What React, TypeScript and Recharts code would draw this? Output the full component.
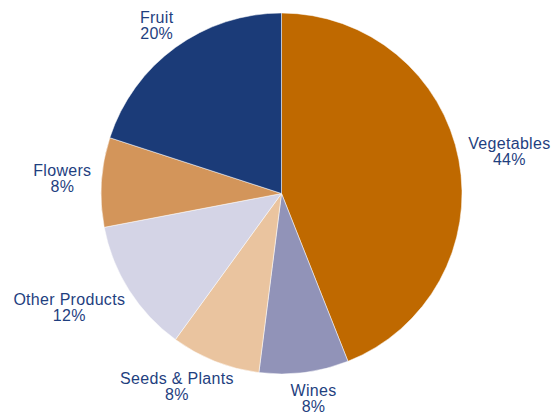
import React from 'react';
import { PieChart, Pie, Cell } from 'recharts';

const categories = ['Vegetables', 'Wines', 'Seeds & Plants', 'Other Products', 'Flowers', 'Fruit'];
const shares = [44, 8, 8, 12, 8, 20];
const colors = ['#BF6900', '#9193B8', '#EAC49F', '#D4D4E6', '#D3955A', '#1B3B78'];

const data = categories.map((name, i) => ({ name, value: shares[i] }));

const FONT = '16px "Liberation Sans", Arial, sans-serif';
const TEXT_COLOR = '#1F3F7F';
const LINE_H = 16;

let ctx: CanvasRenderingContext2D | null = null;
function textWidth(s: string): number {
  if (!ctx) {
    const c = document.createElement('canvas');
    ctx = c.getContext('2d');
  }
  if (!ctx) return s.length * 8;
  ctx.font = FONT;
  return ctx.measureText(s).width + s.length * 0.3;
}

const RAD = Math.PI / 180;

function renderLabel(props: any) {
  const { cx, cy, midAngle, outerRadius, name, value } = props;
  const l1 = String(name);
  const l2 = `${value}%`;
  const w = Math.max(textWidth(l1), textWidth(l2));
  const h = LINE_H * 2;
  const c = Math.cos(-midAngle * RAD);
  const s = Math.sin(-midAngle * RAD);
  const gap = 10;
  const px = cx + (outerRadius + gap) * c;
  const py = cy + (outerRadius + gap) * s;
  const x = px + Math.sign(c) * Math.sqrt(Math.abs(c)) * w / 2;
  const y = py + Math.sign(s) * Math.sqrt(Math.abs(s)) * h / 2;
  return (
    <text
      x={x}
      y={y}
      textAnchor="middle"
      fill={TEXT_COLOR}
      style={{ font: FONT, letterSpacing: '0.3px' }}
    >
      <tspan x={x} y={y - 2}>{l1}</tspan>
      <tspan x={x} y={y - 2 + LINE_H}>{l2}</tspan>
    </text>
  );
}

export default function App() {
  return (
    <div style={{ position: 'fixed', left: 0, top: 0, width: 558, height: 414, background: '#fff' }}>
      <PieChart width={558} height={414} margin={{ top: 0, right: 0, bottom: 0, left: 0 }}>
        <Pie
          data={data}
          dataKey="value"
          nameKey="name"
          cx={281.5}
          cy={193.5}
          outerRadius={180.5}
          startAngle={90}
          endAngle={-270}
          stroke="#ffffff"
          strokeWidth={0.5}
          label={renderLabel}
          labelLine={false}
          isAnimationActive={false}
        >
          {data.map((d, i) => (
            <Cell key={d.name} fill={colors[i]} />
          ))}
        </Pie>
      </PieChart>
    </div>
  );
}
